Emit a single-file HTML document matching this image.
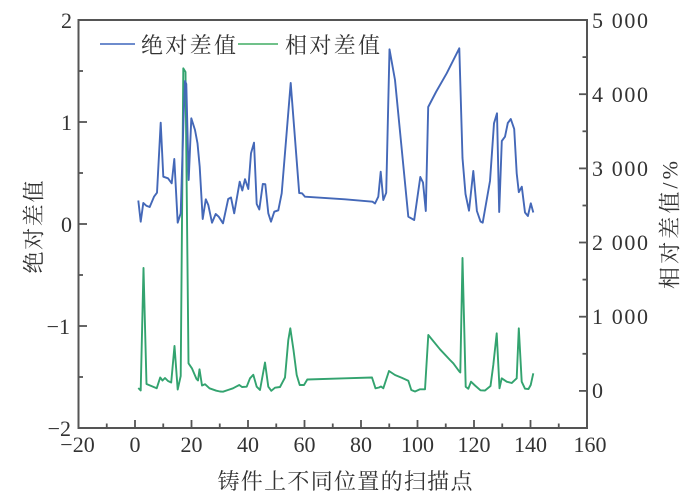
<!DOCTYPE html>
<html>
<head>
<meta charset="utf-8">
<style>
  html,body{margin:0;padding:0;background:#fff;}
  svg{display:block;}
  .num{font-family:"Liberation Serif","Noto Serif CJK SC",serif;font-size:22px;fill:#333;}
  .cjk{font-family:"Liberation Serif","Noto Serif CJK SC",serif;font-size:22px;fill:#333;}
</style>
</head>
<body>
<svg width="690" height="495" viewBox="0 0 690 495" xmlns="http://www.w3.org/2000/svg">
  <rect width="690" height="495" fill="#fff"/>

  <!-- frame -->
  <rect x="78.5" y="20" width="508.5" height="408" fill="none" stroke="#555" stroke-width="2"/>

  <!-- left ticks -->
  <g stroke="#555" stroke-width="1.8">
    <line x1="78.5" y1="122" x2="87" y2="122"/>
    <line x1="78.5" y1="224" x2="87" y2="224"/>
    <line x1="78.5" y1="326" x2="87" y2="326"/>
    <line x1="78.5" y1="71" x2="83" y2="71"/>
    <line x1="78.5" y1="173" x2="83" y2="173"/>
    <line x1="78.5" y1="275" x2="83" y2="275"/>
    <line x1="78.5" y1="377" x2="83" y2="377"/>
    <!-- right ticks -->
    <line x1="587" y1="94.2" x2="579" y2="94.2"/>
    <line x1="587" y1="168.4" x2="579" y2="168.4"/>
    <line x1="587" y1="242.5" x2="579" y2="242.5"/>
    <line x1="587" y1="316.7" x2="579" y2="316.7"/>
    <line x1="587" y1="390.9" x2="579" y2="390.9"/>
    <line x1="587" y1="57.1" x2="582.5" y2="57.1"/>
    <line x1="587" y1="131.3" x2="582.5" y2="131.3"/>
    <line x1="587" y1="205.5" x2="582.5" y2="205.5"/>
    <line x1="587" y1="279.6" x2="582.5" y2="279.6"/>
    <line x1="587" y1="353.8" x2="582.5" y2="353.8"/>
    <!-- bottom ticks -->
    <line x1="135" y1="428" x2="135" y2="420"/>
    <line x1="191.5" y1="428" x2="191.5" y2="420"/>
    <line x1="248" y1="428" x2="248" y2="420"/>
    <line x1="304.5" y1="428" x2="304.5" y2="420"/>
    <line x1="361" y1="428" x2="361" y2="420"/>
    <line x1="417.5" y1="428" x2="417.5" y2="420"/>
    <line x1="474" y1="428" x2="474" y2="420"/>
    <line x1="530.5" y1="428" x2="530.5" y2="420"/>
    <line x1="106.75" y1="428" x2="106.75" y2="423.5"/>
    <line x1="163.25" y1="428" x2="163.25" y2="423.5"/>
    <line x1="219.75" y1="428" x2="219.75" y2="423.5"/>
    <line x1="276.25" y1="428" x2="276.25" y2="423.5"/>
    <line x1="332.75" y1="428" x2="332.75" y2="423.5"/>
    <line x1="389.25" y1="428" x2="389.25" y2="423.5"/>
    <line x1="445.75" y1="428" x2="445.75" y2="423.5"/>
    <line x1="502.25" y1="428" x2="502.25" y2="423.5"/>
    <line x1="558.75" y1="428" x2="558.75" y2="423.5"/>
  </g>

  <!-- left tick labels -->
  <g class="num" text-anchor="end">
    <text x="72" y="28">2</text>
    <text x="72" y="130">1</text>
    <text x="72" y="232">0</text>
    <text x="70" y="334">−1</text>
    <text x="71" y="436">−2</text>
  </g>

  <!-- right tick labels -->
  <g class="num">
    <text x="592" y="28" textLength="56" lengthAdjust="spacing">5 000</text>
    <text x="592" y="102" textLength="56" lengthAdjust="spacing">4 000</text>
    <text x="592" y="176" textLength="56" lengthAdjust="spacing">3 000</text>
    <text x="592" y="250" textLength="56" lengthAdjust="spacing">2 000</text>
    <text x="592" y="324" textLength="56" lengthAdjust="spacing">1 000</text>
    <text x="592" y="398">0</text>
  </g>

  <!-- bottom tick labels -->
  <g class="num" text-anchor="middle">
    <text x="77.5" y="452">−20</text>
    <text x="135" y="452">0</text>
    <text x="191.5" y="452">20</text>
    <text x="248" y="452">40</text>
    <text x="304.5" y="452">60</text>
    <text x="361" y="452">80</text>
    <text x="417.5" y="452">100</text>
    <text x="474" y="452">120</text>
    <text x="530.5" y="452">140</text>
    <text x="590" y="452">160</text>
  </g>

  <!-- axis titles -->
  <text class="cjk" x="0" y="0" text-anchor="middle" dominant-baseline="central" font-size="23" transform="translate(34,227) rotate(-90)" textLength="93" lengthAdjust="spacing">绝对差值</text>
  <text class="cjk" x="0" y="0" text-anchor="middle" dominant-baseline="central" font-size="23" transform="translate(670,225) rotate(-90)" textLength="128" lengthAdjust="spacing">相对差值/%</text>
  <text class="cjk" x="345" y="489" text-anchor="middle" font-size="23" textLength="255" lengthAdjust="spacing">铸件上不同位置的扫描点</text>

  <!-- legend -->
  <line x1="100" y1="44" x2="135" y2="44" stroke="#5a7cc6" stroke-width="1.8"/>
  <text class="cjk" x="141" y="53" textLength="95" lengthAdjust="spacing">绝对差值</text>
  <line x1="238" y1="44" x2="278" y2="44" stroke="#5cb87a" stroke-width="1.8"/>
  <text class="cjk" x="285" y="53" textLength="95" lengthAdjust="spacing">相对差值</text>

  <!-- green series (relative) -->
  <polyline fill="none" stroke="#33a36f" stroke-width="1.9" stroke-linejoin="round" points="
    138.3,388 140.7,390.5 143.5,268 146.5,384 151.3,386 156.7,388.3 160.2,377.5 162.5,380.5 165,378 168,381
    171.2,382.5 174.5,346 177.7,389.6 180.7,376 183.3,68.3 185.5,72 188.5,363.3 191.9,368.3 196.5,379 198,380.5
    199.5,369.3 202,385.5 205,384.2 209.5,388.3 216.3,390.7 220,391.5 223,391.7 228,390 233,388.3 236,386.7
    239.3,385 242,387 246.7,386.7 250,378.3 253.3,374.8 256.7,386.7 260,390 265,362.5 268.3,386.7 271.3,390.8
    275,387.7 280,387 285,377.5 288.3,340 290.3,328.3 293.5,350 296.7,375 299.7,385 304,385 307.3,379.5
    345,378.3 372,377.5 375.5,388.3 379,387.5 381,386.5 383.3,388.3 389,371 395,375 401.7,377.7 408.3,380.7
    411.3,390 415,391.5 420,389.3 425,389.3 428.3,335 440,349.3 450,360 453.3,363.3 459.3,371.5 460.3,372.5
    462.5,258 465.7,386.7 468.3,388.8 471,381.7 475,385.5 480.5,390.3 485,390.5 490.5,386 493.3,365 496.7,333.3
    499.5,388.3 501.7,378.3 506.7,381.7 511.7,383 516.7,378.3 518.8,328.3 521.7,381.7 525,388.7 528.5,389 530.7,385 533.3,373.3"/>

  <!-- blue series (absolute) -->
  <polyline fill="none" stroke="#4468b8" stroke-width="1.9" stroke-linejoin="round" points="
    138.3,200.5 140.7,221.7 143.3,203 146.3,205.7 149.7,207 154,196.7 157,192.7 160.7,122.7 163.3,176.7 168,178.3
    171.7,183.3 174.3,159 177.7,222.7 180.7,213.3 183.5,120 185,81 186.3,84 188.7,180 191.3,118.3 195,130
    197.5,143.3 199.7,166.7 202.7,219 205.8,199.3 208.3,205 212,222.7 215.7,214 218.7,216.7 223,223.3 228.2,199
    231,197.5 234.2,213.3 239.7,181.7 242.3,190.5 245,179.2 248.3,189 251,153.3 254,142.7 256.7,204 259.3,209.5
    262.8,184 265.3,184.2 268.3,213.3 271,221.7 274.3,211.7 278.3,210.3 281.7,193.3 290.7,83 299.2,193 302,193.3
    305,196.7 345,199.3 372.5,201.7 375,203.5 378.3,196.7 380.7,171.7 383.3,200 386.2,192.8 389.5,49.3 395,80
    408.3,216.7 414.2,220 420.3,177 423,182.5 425.8,211 428.2,107 436,92 446.7,73.3 459.3,48.3 462.5,158
    465.5,194 469,210.7 473.3,171 476.9,211 480.5,221.5 482.7,222.7 490,181 494,123.3 497,113.3 499.2,212
    501.8,141 505,136.7 507.8,123 510.8,119 514.2,129 516.7,173.3 518.8,192.2 521.8,186.7 525,212.5 527.9,216
    530.8,203.3 533.3,212.5"/>
</svg>
</body>
</html>
